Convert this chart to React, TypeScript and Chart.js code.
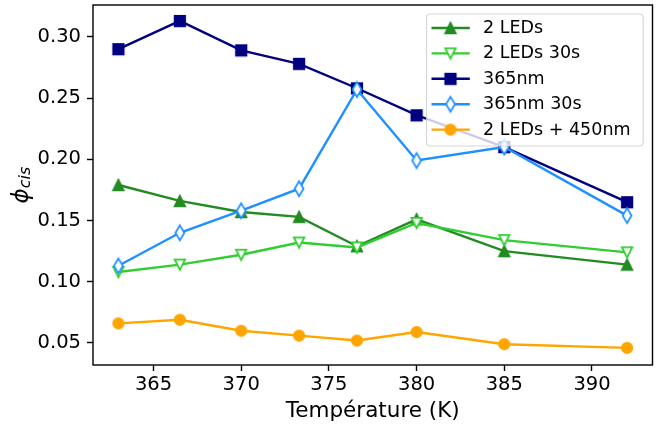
import React, { useEffect, useRef } from 'react';
import { Chart, registerables } from 'chart.js';

Chart.register(...registerables);

// ---- data ----
const temperatures = [363, 366.5, 370, 373.3, 376.6, 380, 385, 392];
const leds2 = [0.179, 0.166, 0.157, 0.153, 0.129, 0.151, 0.125, 0.114];
const leds2_30s = [0.108, 0.114, 0.122, 0.132, 0.128, 0.148, 0.134, 0.124];
const nm365 = [0.290, 0.313, 0.289, 0.278, 0.258, 0.236, 0.210, 0.165];
const nm365_30s = [0.113, 0.140, 0.158, 0.176, 0.257, 0.199, 0.210, 0.154];
const leds2_450 = [0.066, 0.069, 0.060, 0.056, 0.052, 0.059, 0.049, 0.046];

const seriesLabels = ['2 LEDs', '2 LEDs 30s', '365nm', '365nm 30s', '2 LEDs + 450nm'];
const xTicks = [365, 370, 375, 380, 385, 390];
const yTicks = [0.05, 0.1, 0.15, 0.2, 0.25, 0.3];
const xTitle = 'Température (K)';
const yTitleMain = 'ϕ';
const yTitleSub = 'cis';

const FONT = '"DejaVu Sans", sans-serif';

type Shape = '^' | 'v' | 's' | 'd' | 'o';

function makeMarker(shape: Shape, color: string, filled: boolean): HTMLCanvasElement {
  const c = document.createElement('canvas');
  c.width = 24;
  c.height = 24;
  const g = c.getContext('2d')!;
  const S = 10.5;
  const h = S / 2;
  g.translate(12, 12);
  g.beginPath();
  if (shape === '^') {
    g.moveTo(0, -h); g.lineTo(-h, h); g.lineTo(h, h); g.closePath();
  } else if (shape === 'v') {
    g.moveTo(0, h); g.lineTo(-h, -h); g.lineTo(h, -h); g.closePath();
  } else if (shape === 's') {
    g.rect(-h, -h, S, S);
  } else if (shape === 'd') {
    const r = S * Math.SQRT1_2;
    g.moveTo(0, -r); g.lineTo(0.6 * r, 0); g.lineTo(0, r); g.lineTo(-0.6 * r, 0); g.closePath();
  } else {
    g.arc(0, 0, h, 0, Math.PI * 2);
  }
  g.fillStyle = filled ? color : '#ffffff';
  g.fill();
  g.lineWidth = 1.75;
  g.lineJoin = 'miter';
  g.strokeStyle = color;
  g.stroke();
  return c;
}

const seriesDefs: { data: number[]; color: string; shape: Shape; filled: boolean }[] = [
  { data: leds2, color: '#228B22', shape: '^', filled: true },
  { data: leds2_30s, color: '#32CD32', shape: 'v', filled: false },
  { data: nm365, color: '#000080', shape: 's', filled: true },
  { data: nm365_30s, color: '#1E90FF', shape: 'd', filled: false },
  { data: leds2_450, color: '#FFA500', shape: 'o', filled: true },
];

const framePlugin = {
  id: 'frame',
  afterDatasetsDraw(chart: any) {
    const { ctx, chartArea: a } = chart;
    ctx.save();
    ctx.strokeStyle = '#000';
    ctx.lineWidth = 1.4;
    ctx.strokeRect(a.left, a.top, a.right - a.left, a.bottom - a.top);
    ctx.restore();
  },
};

const legendPlugin = {
  id: 'mplLegend',
  afterDraw(chart: any) {
    const { ctx, chartArea: a } = chart;
    const right = a.right - 9.4;
    const top = a.top + 9;
    const w = 216.6;
    const hgt = 132;
    const left = right - w;
    ctx.save();
    ctx.beginPath();
    if (ctx.roundRect) ctx.roundRect(left, top, w, hgt, 3.5);
    else ctx.rect(left, top, w, hgt);
    ctx.fillStyle = 'rgba(255,255,255,0.8)';
    ctx.fill();
    ctx.lineWidth = 1.2;
    ctx.strokeStyle = 'rgba(204,204,204,0.8)';
    ctx.stroke();
    ctx.font = `17.5px ${FONT}`;
    ctx.textBaseline = 'middle';
    ctx.textAlign = 'left';
    chart.data.datasets.forEach((ds: any, i: number) => {
      const y = top + 14 + i * 25.4;
      const x0 = left + 5;
      ctx.beginPath();
      ctx.moveTo(x0, y);
      ctx.lineTo(x0 + 38.3, y);
      ctx.strokeStyle = ds.borderColor;
      ctx.lineWidth = ds.borderWidth;
      ctx.stroke();
      const m = ds.pointStyle as HTMLCanvasElement;
      ctx.drawImage(m, x0 + 19 - m.width / 2, y - m.height / 2);
      ctx.fillStyle = '#000';
      ctx.fillText(ds.label, x0 + 51.6, y + 0.5);
    });
    ctx.restore();
  },
};

const yTitlePlugin = {
  id: 'yTitle',
  afterDraw(chart: any) {
    const { ctx, chartArea: a } = chart;
    const cy = (a.top + a.bottom) / 2;
    const mainFont = `italic 23px ${FONT}`;
    const subFont = `italic 16px ${FONT}`;
    ctx.save();
    ctx.font = mainFont;
    const w1 = ctx.measureText(yTitleMain).width;
    ctx.font = subFont;
    const w2 = ctx.measureText(yTitleSub).width;
    ctx.translate(28, cy + (w1 + w2) / 2);
    ctx.rotate(-Math.PI / 2);
    ctx.fillStyle = '#000';
    ctx.textBaseline = 'alphabetic';
    ctx.textAlign = 'left';
    ctx.font = mainFont;
    ctx.fillText(yTitleMain, 0, 0);
    ctx.font = subFont;
    ctx.fillText(yTitleSub, w1, 1.5);
    ctx.restore();
  },
};

export default function App() {
  const ref = useRef<HTMLCanvasElement>(null);
  useEffect(() => {
    const datasets = seriesDefs.map((s, i) => ({
      label: seriesLabels[i],
      data: temperatures.map((t, j) => ({ x: t, y: s.data[j] })),
      borderColor: s.color,
      backgroundColor: s.color,
      borderWidth: 2.4,
      pointStyle: makeMarker(s.shape, s.color, s.filled),
      pointRadius: 6,
      pointHoverRadius: 6,
      tension: 0,
      fill: false,
      order: -i,
    }));
    const chart = new Chart(ref.current!, {
      type: 'line',
      data: { datasets },
      plugins: [framePlugin, yTitlePlugin, legendPlugin],
      options: {
        responsive: false,
        animation: false,
        devicePixelRatio: 1,
        layout: { autoPadding: false, padding: { top: 5, right: 7.5, left: 0, bottom: 0 } },
        plugins: { legend: { display: false }, tooltip: { enabled: false } },
        events: [],
        scales: {
          x: {
            type: 'linear',
            min: 361.55,
            max: 393.45,
            afterBuildTicks: (s: any) => { s.ticks = xTicks.map((v) => ({ value: v })); },
            afterFit: (s: any) => { s.height = 60; s.paddingLeft = 0; s.paddingRight = 0; },
            ticks: {
              color: '#000',
              font: { family: FONT, size: 19.5 },
              padding: 2,
              maxRotation: 0,
              autoSkip: false,
              callback: (v: any) => String(v),
            },
            grid: { drawOnChartArea: false, drawTicks: true, tickLength: 6, tickColor: '#000', tickWidth: 1.4 },
            border: { display: false },
            title: {
              display: true,
              text: xTitle,
              color: '#000',
              font: { family: FONT, size: 21.5 },
              padding: { top: 0, bottom: 1 },
            },
          },
          y: {
            type: 'linear',
            min: 0.032,
            max: 0.326,
            afterBuildTicks: (s: any) => { s.ticks = yTicks.map((v) => ({ value: v })); },
            afterFit: (s: any) => { s.width = 93; s.paddingTop = 0; s.paddingBottom = 0; },
            ticks: {
              color: '#000',
              font: { family: FONT, size: 19.5 },
              padding: 6,
              autoSkip: false,
              callback: (v: any) => Number(v).toFixed(2),
            },
            grid: { drawOnChartArea: false, drawTicks: true, tickLength: 6, tickColor: '#000', tickWidth: 1.4 },
            border: { display: false },
          },
        },
      } as any,
    });
    return () => chart.destroy();
  }, []);
  return (
    <div style={{ position: 'absolute', left: 0, top: 0, width: 660, height: 425, background: '#fff' }}>
      <canvas ref={ref} width={660} height={425} style={{ display: 'block' }} />
    </div>
  );
}
